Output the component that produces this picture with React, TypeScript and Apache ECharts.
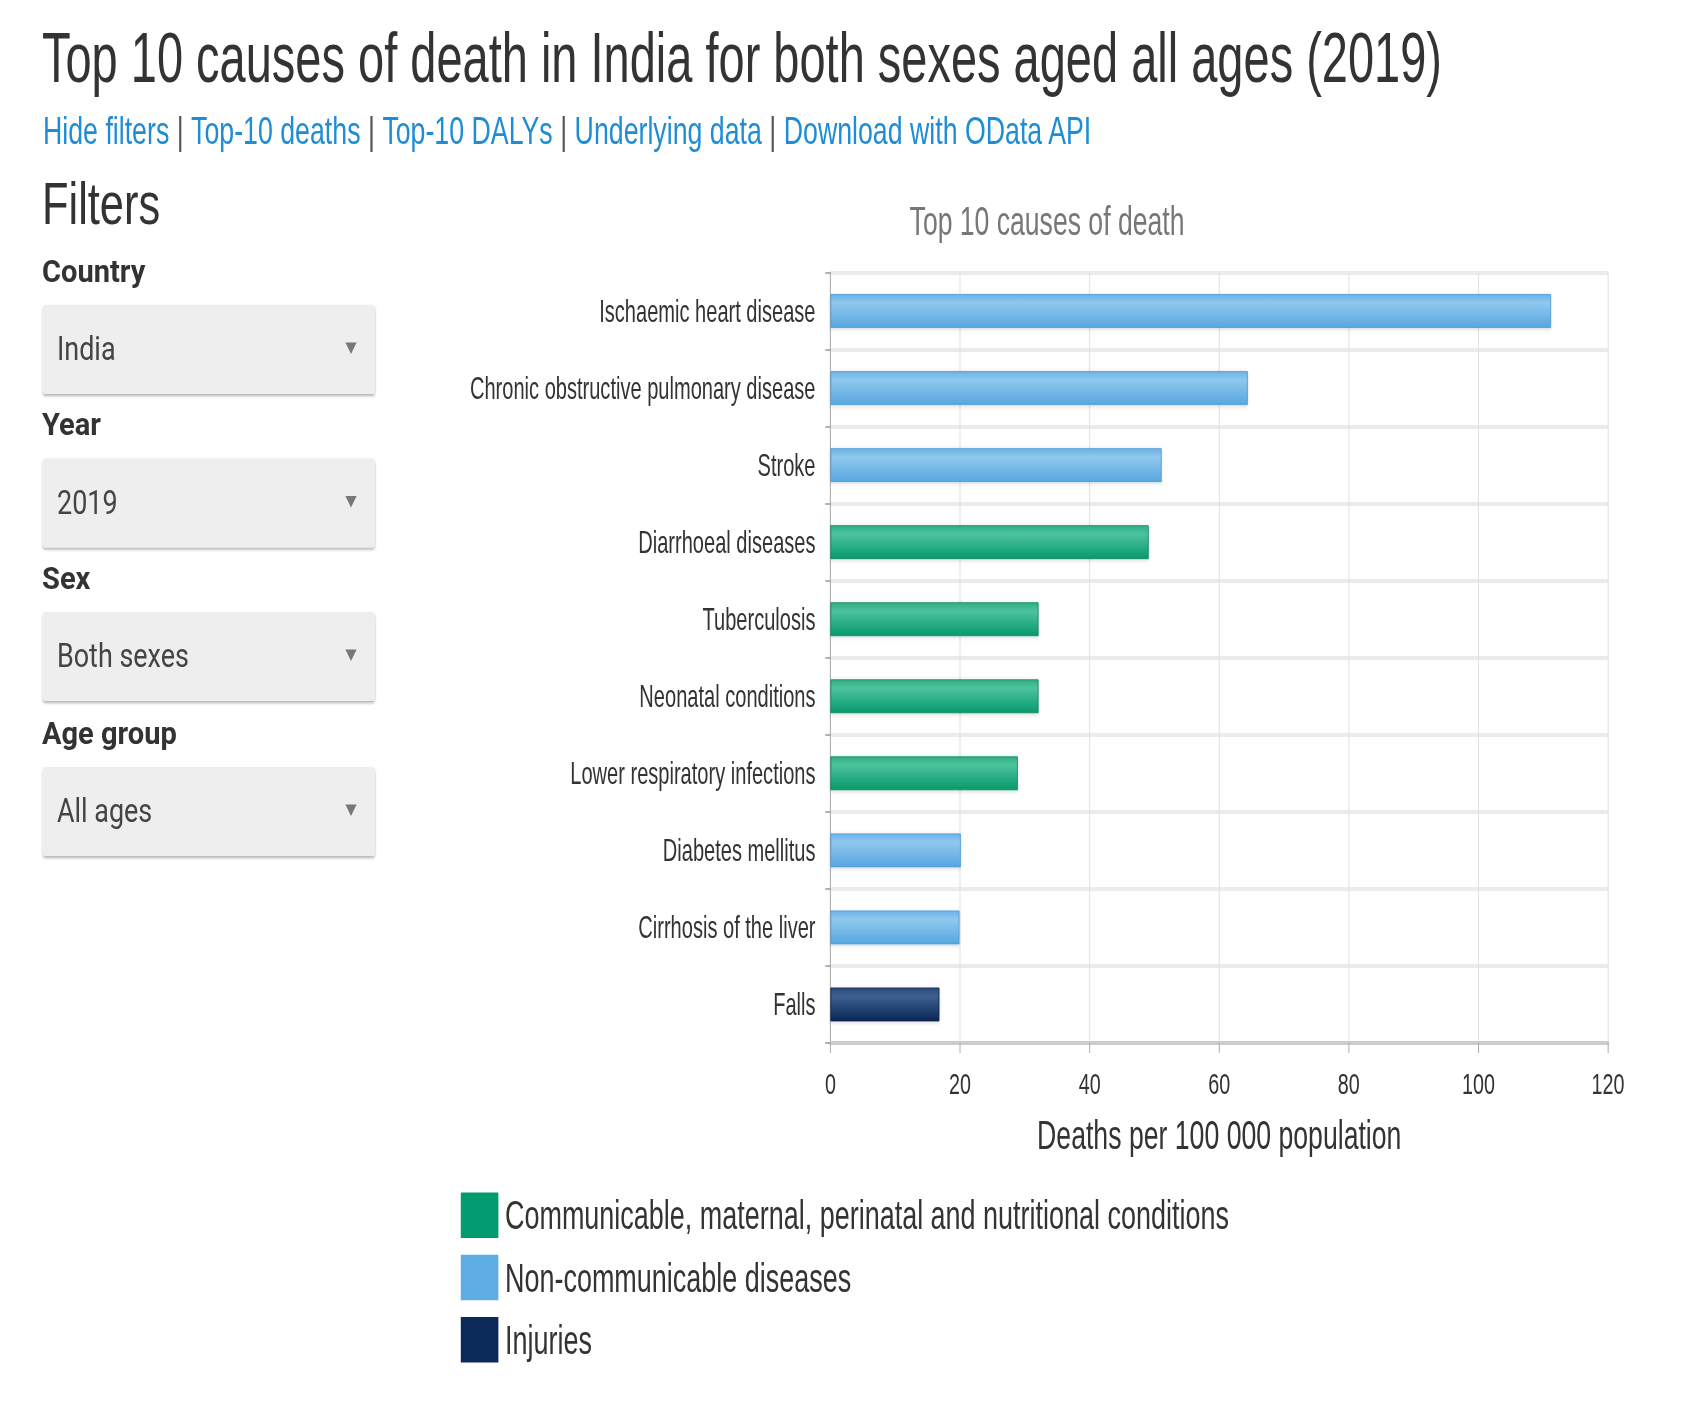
import React, { useEffect, useRef } from 'react';
import * as echarts from 'echarts';

// ---------- data ----------
const categories = [
  'Ischaemic heart disease',
  'Chronic obstructive pulmonary disease',
  'Stroke',
  'Diarrhoeal diseases',
  'Tuberculosis',
  'Neonatal conditions',
  'Lower respiratory infections',
  'Diabetes mellitus',
  'Cirrhosis of the liver',
  'Falls',
];
const deathRates = [111.2, 64.4, 51.1, 49.1, 32.1, 32.1, 28.9, 20.1, 19.9, 16.8];
const causeGroups = ['ncd', 'ncd', 'ncd', 'comm', 'comm', 'comm', 'comm', 'ncd', 'ncd', 'inj'];
const groupKeys = ['comm', 'ncd', 'inj'];
const groupNames = [
  'Communicable, maternal, perinatal and nutritional conditions',
  'Non-communicable diseases',
  'Injuries',
];
const xMin = 0;
const xMax = 120;
const xInterval = 20;

const pageTitle = 'Top 10 causes of death in India for both sexes aged all ages (2019)';
const linkItems = ['Hide filters', 'Top-10 deaths', 'Top-10 DALYs', 'Underlying data', 'Download with OData API'];
const chartTitle = 'Top 10 causes of death';
const axisName = 'Deaths per 100 000 population';
const filterLabels = ['Country', 'Year', 'Sex', 'Age group'];
const filterValues = ['India', '2019', 'Both sexes', 'All ages'];

// ---------- styling ----------
const S = 0.658; // horizontal compression of the reference
const W = Math.round(1705 / S);
const H = 1411;
const fx = (x: number) => x / S;
const SANS = '"Liberation Sans", Arial, sans-serif';
const ROBOTO = 'Roboto, "Noto Sans", sans-serif';

const groupStyles: Record<string, any> = {
  ncd: {
    stops: ['#6cb3e6', '#8fc8ef', '#58a7e0'],
    border: '#4d9bd5',
    legend: '#5dade2',
  },
  comm: {
    stops: ['#2fae84', '#4cc39e', '#08996b'],
    border: '#0a8a60',
    legend: '#009b6e',
  },
  inj: {
    stops: ['#2a4a78', '#3e6090', '#092655'],
    border: '#0a2450',
    legend: '#0b2a5a',
  },
};

function buildOption() {
  const series = groupKeys.map((key, gi) => {
    const st = groupStyles[key];
    return {
      type: 'bar',
      name: groupNames[gi],
      stack: 'all',
      barWidth: 34,
      data: deathRates.map((v, i) => (causeGroups[i] === key ? v : '-')),
      itemStyle: {
        color: new echarts.graphic.LinearGradient(0, 0, 0, 1, [
          { offset: 0, color: st.stops[0] },
          { offset: 0.25, color: st.stops[1] },
          { offset: 1, color: st.stops[2] },
        ]),
        borderColor: st.border,
        borderWidth: 1,
        shadowColor: 'rgba(0,0,0,0.18)',
        shadowBlur: 4,
        shadowOffsetY: 1,
      },
      emphasis: { disabled: true },
    };
  });

  const graphics: any[] = [];
  const txt = (x: number, y: number, text: string, o: any, scaleX = 1, align = 'left') => ({
    type: 'text',
    x,
    y,
    scaleX,
    silent: true,
    style: {
      text,
      align,
      verticalAlign: 'middle',
      textAlign: align,
      textVerticalAlign: 'middle',
      ...o,
    },
  });

  graphics.push(
    txt(fx(42), 57.5, pageTitle, { fontSize: 71, fontFamily: SANS, fill: '#333' }, 1.006)
  );

  const linkText = linkItems.map((t) => `{a|${t}}`).join('{s| | }');
  graphics.push(
    txt(
      fx(43),
      131,
      linkText,
      {
        fontSize: 39,
        fontFamily: SANS,
        fill: '#1f8dd6',
        rich: {
          a: { fill: '#1f8dd6', fontSize: 39, fontFamily: SANS },
          s: { fill: '#555', fontSize: 39, fontFamily: SANS },
        },
      },
      1.042
    )
  );

  graphics.push(txt(fx(42), 203, 'Filters', { fontSize: 60, fontFamily: SANS, fill: '#333' }, 1.1));

  graphics.push(
    txt(fx(1047), 221, chartTitle, { fontSize: 40, fontFamily: SANS, fill: '#777' }, 1.01, 'center')
  );

  const boxTops = [305, 458.5, 612, 767];
  filterLabels.forEach((lab, i) => {
    const top = boxTops[i];
    graphics.push(
      txt(fx(42), top - 34, lab, { fontSize: 32, fontFamily: ROBOTO, fontWeight: 'bold', fill: '#333' }, 1.38)
    );
    graphics.push({
      type: 'rect',
      x: fx(42.7),
      y: top,
      silent: true,
      shape: { x: 0, y: 0, width: fx(332.3), height: 89, r: 4 },
      style: {
        fill: '#eeeeee',
        shadowColor: 'rgba(0,0,0,0.3)',
        shadowBlur: 3,
        shadowOffsetY: 2,
      },
    });
    graphics.push(
      txt(fx(57), top + 43.5, filterValues[i], { fontSize: 33, fontFamily: ROBOTO, fill: '#444' }, 1.24)
    );
    const cx = fx(351);
    const cy = top + 43;
    graphics.push({
      type: 'polygon',
      silent: true,
      shape: {
        points: [
          [cx - 8.5, cy - 5.5],
          [cx + 8.5, cy - 5.5],
          [cx, cy + 6],
        ],
      },
      style: { fill: '#777' },
    });
  });

  return {
    animation: false,
    backgroundColor: '#ffffff',
    textStyle: { fontFamily: SANS },
    grid: {
      left: fx(830.5),
      right: W - fx(1608),
      top: 272.5,
      bottom: H - 1043,
      containLabel: false,
    },
    legend: {
      orient: 'vertical',
      left: fx(457.5),
      top: 1187.5,
      itemWidth: fx(37.6),
      itemHeight: 45.5,
      itemGap: 16.7,
      icon: 'rect',
      selectedMode: false,
      textStyle: { fontSize: 41, color: '#333', fontFamily: SANS, padding: [0, 0, 0, 5] },
      data: groupNames.map((n, i) => ({
        name: n,
        itemStyle: { color: groupStyles[groupKeys[i]].legend, borderWidth: 0, shadowBlur: 0 },
      })),
    },
    xAxis: {
      type: 'value',
      min: xMin,
      max: xMax,
      interval: xInterval,
      axisLine: { show: true, lineStyle: { color: '#cccccc', width: 4 } },
      axisTick: { show: true, length: 10, lineStyle: { color: '#aaaaaa', width: 1.5 } },
      splitLine: { show: true, lineStyle: { color: '#e0e0e0', width: 1.5 } },
      axisLabel: { fontSize: 30, color: '#333', margin: 25, fontFamily: SANS },
      name: axisName,
      nameLocation: 'middle',
      nameGap: 71,
      nameTextStyle: { fontSize: 40.5, color: '#333', fontFamily: SANS },
    },
    yAxis: {
      type: 'category',
      data: categories,
      inverse: true,
      axisLine: { show: true, lineStyle: { color: '#aaaaaa', width: 1.5 } },
      axisTick: { show: true, length: 8, lineStyle: { color: '#999999', width: 1.5 } },
      axisLabel: { fontSize: 30.5, color: '#333', margin: fx(15), fontFamily: SANS },
      splitLine: { show: true, lineStyle: { color: '#ebebeb', width: 4 } },
    },
    series,
    graphic: graphics,
  };
}

export default function App() {
  const ref = useRef<HTMLDivElement>(null);
  useEffect(() => {
    if (!ref.current) return;
    const chart = echarts.init(ref.current, null, { renderer: 'svg', width: W, height: H });
    chart.setOption(buildOption() as any);
    return () => chart.dispose();
  }, []);
  return (
    <div
      style={{
        position: 'fixed',
        left: 0,
        top: 0,
        width: 1705,
        height: 1411,
        overflow: 'hidden',
        background: '#fff',
      }}
    >
      <div
        ref={ref}
        style={{ width: W, height: H, transform: `scaleX(${S})`, transformOrigin: '0 0' }}
      />
    </div>
  );
}
